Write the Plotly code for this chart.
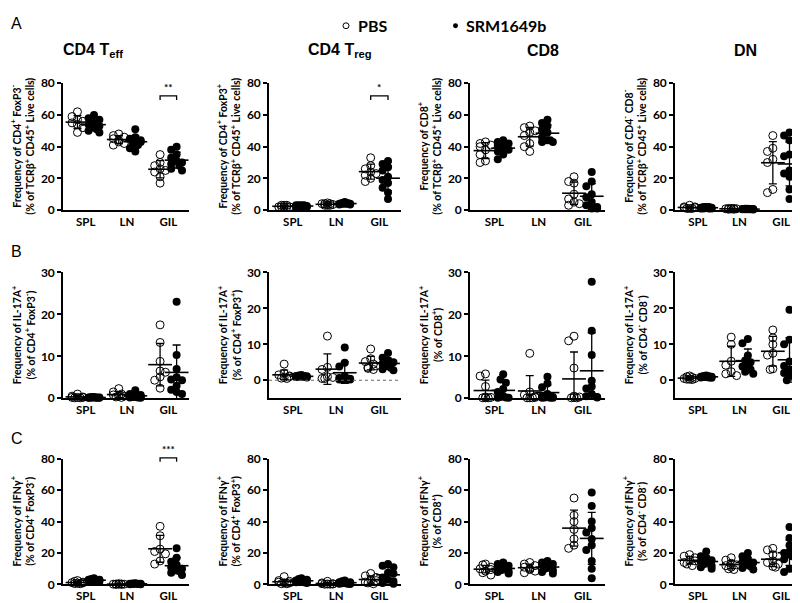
import numpy as np
import plotly.graph_objects as go

W, H = 800, 603

categories = ["SPL", "LN", "GIL"]
group_names = ["PBS", "SRM1649b"]

# ---------------- Row A : % of TCRb+ CD45+ live cells ----------------
teff_pbs = [[62, 59, 57, 56, 55, 54, 52, 49], [48, 47, 46, 45, 44, 43, 42, 41], [35, 30, 28, 26, 25, 24, 21, 17]]
teff_srm = [[60, 58, 57, 55, 54, 53, 52, 51, 50, 49], [51, 46, 45, 44, 43, 43, 42, 41, 39, 37], [40, 38, 35, 33, 31, 30, 29, 28, 26, 25]]
treg_pbs = [[3, 3, 2, 2, 2, 3, 2, 2], [4, 4, 3.5, 3, 3, 4, 4.5, 3], [33, 28, 26, 24, 23, 22, 20, 18]]
treg_srm = [[3, 3, 2.5, 2, 2, 3, 2.5, 3, 2, 2.5], [4, 4.5, 4, 3.5, 4, 5, 4, 3.5, 4, 4.5], [31, 29, 27, 25, 21, 19, 17, 14, 11, 7]]
cd8_pbs = [[43, 42, 41, 40, 38, 35, 31, 30], [53, 52, 50, 49, 47, 42, 40, 37], [21, 18, 17, 10, 7, 5, 4, 3]]
cd8_srm = [[44, 43, 42, 41, 40, 39, 38, 37, 35, 32], [57, 55, 53, 51, 49, 46, 44, 44, 43, 43], [24, 18, 15, 10, 8, 5, 3, 2, 1, 1]]
dn_pbs = [[3, 2, 2, 1.5, 1.5, 1, 1, 1], [1, 1, 0.8, 0.8, 0.5, 0.5, 1, 0.7], [47, 39, 37, 32, 30, 13, 11]]
dn_srm = [[2, 2, 1.5, 1.5, 1, 1, 1, 1.5, 2, 1], [0.5, 0.8, 0.5, 0.6, 0.7, 0.4, 0.6, 0.5, 0.8, 0.5], [49, 47, 44, 35, 34, 25, 23, 22, 21, 13, 7]]

# ---------------- Row B : IL-17A+ ----------------
il17_teff_pbs = [[1, 0.5, 0.3, 0.2, 0.2, 0.1, 0.1, 0.2], [2.3, 1.5, 1, 0.8, 0.5, 0.5, 0.3, 0.2], [17.5, 13.3, 8.8, 6.5, 6.2, 5.1, 4.3, 2.4]]
il17_teff_srm = [[0.3, 0.2, 0.2, 0.1, 0.1, 0.2, 0.3, 0.1, 0.2, 0.1], [1.9, 1, 0.8, 0.5, 0.4, 0.3, 0.3, 0.2, 0.2, 0.1], [23, 10.3, 7, 5, 4.5, 4.3, 3, 2, 1.5, 1]]
il17_treg_pbs = [[4.5, 2, 1.5, 1.2, 1, 0.8, 0.6, 0.5], [12.3, 3.6, 3, 1, 0.8, 0.5, 0.5], [8.7, 6, 5.2, 4.5, 4, 3.6, 3.3, 3]]
il17_treg_srm = [[1.5, 1.3, 1.2, 1, 1, 1, 0.9, 0.8, 1.1, 1.2], [9.1, 4.9, 3.8, 1.2, 0.6, 0.4, 0.3, 0.3, 0.2, 0.2], [7.6, 6.3, 5.5, 5, 4.6, 4.4, 4, 3.5, 3.1, 2.8]]
il17_cd8_pbs = [[5.8, 5.3, 2.8, 0.3, 0.2, 0.1, 0.1, 0.1], [10.7, 1.5, 0.8, 0.4, 0.2, 0.1, 0.1, 0.1], [14.8, 13.7, 7.2, 0.5, 0.3, 0.2, 0.1, 0.1]]
il17_cd8_srm = [[5.7, 4.5, 3.7, 2.2, 1.5, 0.5, 0.3, 0.2, 0.1, 0.1], [5.1, 3.5, 2.6, 1, 0.5, 0.3, 0.2, 0.1, 0.1, 0.1], [27.8, 16.1, 10.3, 4.2, 2.8, 2.3, 1, 0.5, 0.3, 0.2]]
il17_dn_pbs = [[1.2, 1, 0.8, 0.5, 0.3, 0.3, 0.5, 0.2], [12, 10, 5.3, 4.2, 2.4, 1.8, 1.3], [14, 11.8, 10, 7.5, 7, 3.2, 3]]
il17_dn_srm = [[1.3, 1.2, 1, 1, 0.9, 0.8, 0.8, 0.7, 1.1, 0.9], [11.5, 10.3, 6.9, 5.5, 5, 4.4, 3.8, 3, 2.4, 1.8], [19.6, 11.3, 10, 5.2, 4, 3, 2, 1.4, 0.5, 0]]

# ---------------- Row C : IFNg+ ----------------
ifng_teff_pbs = [[2.5, 2, 1.5, 1.2, 1, 0.8, 0.6, 0.5], [0.5, 0.3, 0.2, 0.2, 0.1, 0.2, 0.3, 0.1], [37, 31, 22.5, 21, 19.5, 15, 13]]
ifng_teff_srm = [[4, 3.5, 3, 3, 2.8, 2.5, 2.5, 2.2, 2, 1.8], [0.8, 0.6, 0.5, 0.5, 0.4, 0.4, 0.3, 0.3, 0.2, 0.2], [23, 17, 14.5, 12.5, 11, 10, 9.5, 8.5, 7.5, 6]]
ifng_treg_pbs = [[5, 2.5, 2, 1.5, 1, 1, 0.5, 0.5], [2, 1, 0.5, 0.5, 0.3, 0.3, 0.2, 0.2], [7, 5.5, 4.5, 3, 2.5, 1.5, 1, 0.5]]
ifng_treg_srm = [[4, 3.5, 3, 2.5, 2.5, 2, 2, 1.5, 1.5, 1], [2.5, 2, 1.5, 1.5, 1, 1, 0.8, 0.5, 0.5, 0.3], [13, 12, 11, 7.5, 7, 4.5, 3, 2, 1, 0.5]]
ifng_cd8_pbs = [[13, 12.5, 11, 10, 9.5, 8.5, 7.5, 6], [14, 13, 12, 11, 10, 9.5, 8.5, 7.5], [55, 44, 40, 35, 29, 25, 23]]
ifng_cd8_srm = [[14, 13, 12, 11, 10, 9.5, 9, 8.5, 8, 7], [15, 14, 13, 12.5, 11.5, 11, 10, 9, 8, 7], [58.5, 50, 40, 36, 33, 29, 25, 22, 15, 10, 4]]
ifng_dn_pbs = [[19, 18, 17, 15.5, 15, 14, 13, 12], [17, 15.5, 13.5, 12.5, 12, 11, 10, 9.5], [23, 22, 19, 15, 14, 13, 11.5, 11]]
ifng_dn_srm = [[21, 18, 17, 15.5, 14.5, 14, 13, 12, 11, 10], [20, 18, 16, 14.5, 14, 13, 12.5, 11.5, 10.5, 9.5], [36.5, 29.5, 25, 21, 20, 19.5, 19, 18, 16, 10, 8]]

column_titles = ["<b>CD4 T<sub>eff</sub></b>", "<b>CD4 T<sub>reg</sub></b>", "<b>CD8</b>", "<b>DN</b>"]
row_letters = ["A", "B", "C"]

ytitles = [
    ["Frequency of CD4<sup>+</sup> FoxP3<sup>-</sup><br>(% of TCRβ<sup>+</sup> CD45<sup>+</sup> Live cells)",
     "Frequency of CD4<sup>+</sup> FoxP3<sup>+</sup><br>(% of TCRβ<sup>+</sup> CD45<sup>+</sup> Live cells)",
     "Frequency of CD8<sup>+</sup><br>(% of TCRβ<sup>+</sup> CD45<sup>+</sup> Live cells)",
     "Frequency of CD4<sup>-</sup> CD8<sup>-</sup><br>(% of TCRβ<sup>+</sup> CD45<sup>+</sup> Live cells)"],
    ["Frequency of IL-17A<sup>+</sup><br>(% of CD4<sup>+</sup> FoxP3<sup>-</sup>)",
     "Frequency of IL-17A<sup>+</sup><br>(% of CD4<sup>+</sup> FoxP3<sup>+</sup>)",
     "Frequency of IL-17A<sup>+</sup><br>(% of CD8<sup>+</sup>)",
     "Frequency of IL-17A<sup>+</sup><br>(% of CD4<sup>-</sup> CD8<sup>-</sup>)"],
    ["Frequency of IFNγ<sup>+</sup><br>(% of CD4<sup>+</sup> FoxP3<sup>-</sup>)",
     "Frequency of IFNγ<sup>+</sup><br>(% of CD4<sup>+</sup> FoxP3<sup>+</sup>)",
     "Frequency of IFNγ<sup>+</sup><br>(% of CD8<sup>+</sup>)",
     "Frequency of IFNγ<sup>+</sup><br>(% of CD4<sup>-</sup> CD8<sup>-</sup>)"],
]

panel_data = [
    [(teff_pbs, teff_srm), (treg_pbs, treg_srm), (cd8_pbs, cd8_srm), (dn_pbs, dn_srm)],
    [(il17_teff_pbs, il17_teff_srm), (il17_treg_pbs, il17_treg_srm), (il17_cd8_pbs, il17_cd8_srm), (il17_dn_pbs, il17_dn_srm)],
    [(ifng_teff_pbs, ifng_teff_srm), (ifng_treg_pbs, ifng_treg_srm), (ifng_cd8_pbs, ifng_cd8_srm), (ifng_dn_pbs, ifng_dn_srm)],
]

y_ranges = [
    [[0, 80], [0, 80], [0, 80], [0, 80]],
    [[0, 30], [-5, 30], [0, 30], [-5, 30]],
    [[0, 80], [0, 80], [0, 80], [0, 80]],
]
y_ticks = [[0, 20, 40, 60, 80], [0, 10, 20, 30], [0, 20, 40, 60, 80]]
zero_line_panels = [(1, 1)]

# significance: (row, col, category index, label, bracket level)
sig_brackets = [(0, 0, 2, "**", 72), (0, 1, 2, "*", 72), (2, 0, 2, "***", 80.5)]

# ---------------- layout geometry (pixels) ----------------
col_px = [(55, 181), (261, 393), (462, 597), (667, 794)]
row_px = [(69, 199), (263, 392), (454, 583)]
x_range = [0.45, 3.5]
group_offset = [-0.2, 0.2]


def px2x(p):
    return p / W


def px2y(p):
    return 1 - p / H


def swarm(vals, ppu_y, ppu_x, diam=7.0, maxoff=5.5):
    vals = np.asarray(vals, dtype=float)
    order = np.argsort(-vals, kind="stable")
    placed = []
    offs = np.zeros(len(vals))
    step = 2.7
    for idx, i in enumerate(order):
        y = vals[i] * ppu_y
        best = None
        for k in range(0, 4):
            for s in ([0] if k == 0 else [-1, 1]):
                cand = s * k * step
                if abs(cand) > maxoff:
                    continue
                if all((cand - px) ** 2 + (y - py) ** 2 >= (diam * 0.8) ** 2 for px, py in placed):
                    best = cand
                    break
            if best is not None:
                break
        if best is None:
            best = [0, -step, step, -2 * step, 2 * step][idx % 5]
        placed.append((best, y))
        offs[i] = best / ppu_x
    return offs


fig = go.Figure()
layout = dict(
    width=W, height=H, margin=dict(l=0, r=0, t=0, b=0),
    paper_bgcolor="white", plot_bgcolor="white", showlegend=False,
    font=dict(family="Lato", color="black"),
)
annotations = []
shapes = []

marker_styles = [
    dict(symbol="circle-open", size=8, color="black", line=dict(width=1, color="black")),
    dict(symbol="circle", size=8, color="black", line=dict(width=0)),
]

n = 0
for r in range(3):
    for c in range(4):
        n += 1
        xa = "x" if n == 1 else f"x{n}"
        ya = "y" if n == 1 else f"y{n}"
        x0p, x1p = col_px[c]
        ytop, ybot = row_px[r]
        yr = y_ranges[r][c]
        ppu_y = (ybot - ytop) / (yr[1] - yr[0])
        ppu_x = (x1p - x0p) / (x_range[1] - x_range[0])
        layout[f"xaxis{'' if n == 1 else n}"] = dict(
            domain=[px2x(x0p), px2x(x1p)], range=x_range, anchor=ya,
            tickvals=[1, 2, 3], ticktext=categories, ticks="", showgrid=False, zeroline=False,
            showline=True, linecolor="black", linewidth=1.6,
            tickfont=dict(family="Lato", size=11.5, color="black", weight="bold"), fixedrange=True,
        )
        layout[f"yaxis{'' if n == 1 else n}"] = dict(
            domain=[px2y(ybot), px2y(ytop)], range=yr, anchor=xa,
            tickvals=y_ticks[r], ticks="outside", ticklen=4, tickwidth=1.6, tickcolor="black",
            showgrid=False, zeroline=False, showline=True, linecolor="black", linewidth=1.6,
            tickfont=dict(family="Lato", size=12, color="black", weight="bold"), fixedrange=True,
        )
        pbs, srm = panel_data[r][c]
        for g, grp in enumerate((pbs, srm)):
            xs, ys, mx, my, sd = [], [], [], [], []
            for ci, vals in enumerate(grp):
                base = ci + 1 + group_offset[g]
                offs = swarm(vals, ppu_y, ppu_x)
                xs += list(base + offs)
                ys += list(vals)
                mx.append(base)
                my.append(float(np.mean(vals)))
                sd.append(float(np.std(vals, ddof=1)))
            fig.add_trace(go.Scatter(
                x=xs, y=ys, mode="markers", xaxis=xa, yaxis=ya, name=group_names[g],
                marker=marker_styles[g], cliponaxis=False, hoverinfo="y",
            ))
            fig.add_trace(go.Scatter(
                x=mx, y=my, mode="markers", xaxis=xa, yaxis=ya, name=group_names[g] + " mean ± SD",
                marker=dict(symbol="line-ew", size=17, line=dict(width=1.6, color="black")),
                error_y=dict(type="data", array=sd, visible=True, color="black", thickness=1.3, width=4),
                cliponaxis=False, hoverinfo="y",
            ))
        if (r, c) in zero_line_panels:
            shapes.append(dict(type="line", xref=xa, yref=ya, x0=x_range[0], x1=x_range[1], y0=0, y1=0,
                               line=dict(color="#666", width=1, dash="dot")))
        # y-axis title
        annotations.append(dict(
            text="<b>" + ytitles[r][c] + "</b>", xref="paper", yref="paper",
            x=px2x(x0p - 40), y=px2y((ytop + ybot) / 2), textangle=-90, showarrow=False,
            xanchor="center", yanchor="middle", font=dict(family="Lato", size=10.5, color="black"),
        ))
        # significance brackets (drawn in paper space so they can sit above the axis top)
        for (br, bc, bci, lab, lev) in sig_brackets:
            if br == r and bc == c:
                def vx(xv):
                    return px2x(x0p + (xv - x_range[0]) * ppu_x)

                def vy(v):
                    return px2y(ybot - (v - yr[0]) * ppu_y)
                xl = bci + 1 + group_offset[0]
                xr = bci + 1 + group_offset[1]
                tick = 2.5 * (yr[1] - yr[0]) / 80
                shapes.append(dict(type="path", xref="paper", yref="paper",
                                   path=f"M {vx(xl)} {vy(lev - tick)} L {vx(xl)} {vy(lev)} L {vx(xr)} {vy(lev)} L {vx(xr)} {vy(lev - tick)}",
                                   line=dict(color="black", width=1.3)))
                annotations.append(dict(
                    text="<b>" + lab + "</b>", xref="paper", yref="paper", x=vx(bci + 1), y=vy(lev + tick * 0.2),
                    showarrow=False, xanchor="center", yanchor="bottom",
                    font=dict(family="Lato", size=10, color="black"),
                ))

# column titles
title_x = [85, 332, 535, 737]
for c in range(4):
    annotations.append(dict(
        text=column_titles[c], xref="paper", yref="paper", x=px2x(title_x[c]), y=px2y(35),
        showarrow=False, xanchor="center", yanchor="middle",
        font=dict(family="Liberation Sans", size=16, color="black"),
    ))

# row letters
letter_y = [8, 242, 433]
for r in range(3):
    annotations.append(dict(
        text=row_letters[r], xref="paper", yref="paper", x=px2x(1), y=px2y(letter_y[r]),
        showarrow=False, xanchor="left", yanchor="middle",
        font=dict(family="Liberation Sans", size=16, color="black"),
    ))

# legend (symbols + labels)
shapes.append(dict(type="circle", xref="paper", yref="paper",
                   x0=px2x(335), x1=px2x(341), y0=px2y(13), y1=px2y(7),
                   line=dict(color="black", width=1), fillcolor="white"))
shapes.append(dict(type="circle", xref="paper", yref="paper",
                   x0=px2x(445), x1=px2x(450), y0=px2y(12.5), y1=px2y(7.5),
                   line=dict(color="black", width=0), fillcolor="black"))
annotations.append(dict(text="<b>" + group_names[0] + "</b>", xref="paper", yref="paper",
                        x=px2x(348), y=px2y(10), showarrow=False, xanchor="left", yanchor="middle",
                        font=dict(family="Lato", size=16, color="black")))
annotations.append(dict(text="<b>" + group_names[1] + "</b>", xref="paper", yref="paper",
                        x=px2x(456), y=px2y(10), showarrow=False, xanchor="left", yanchor="middle",
                        font=dict(family="Lato", size=16, color="black")))

layout["annotations"] = annotations
layout["shapes"] = shapes
fig.update_layout(**layout)
fig.write_html("out.html")
